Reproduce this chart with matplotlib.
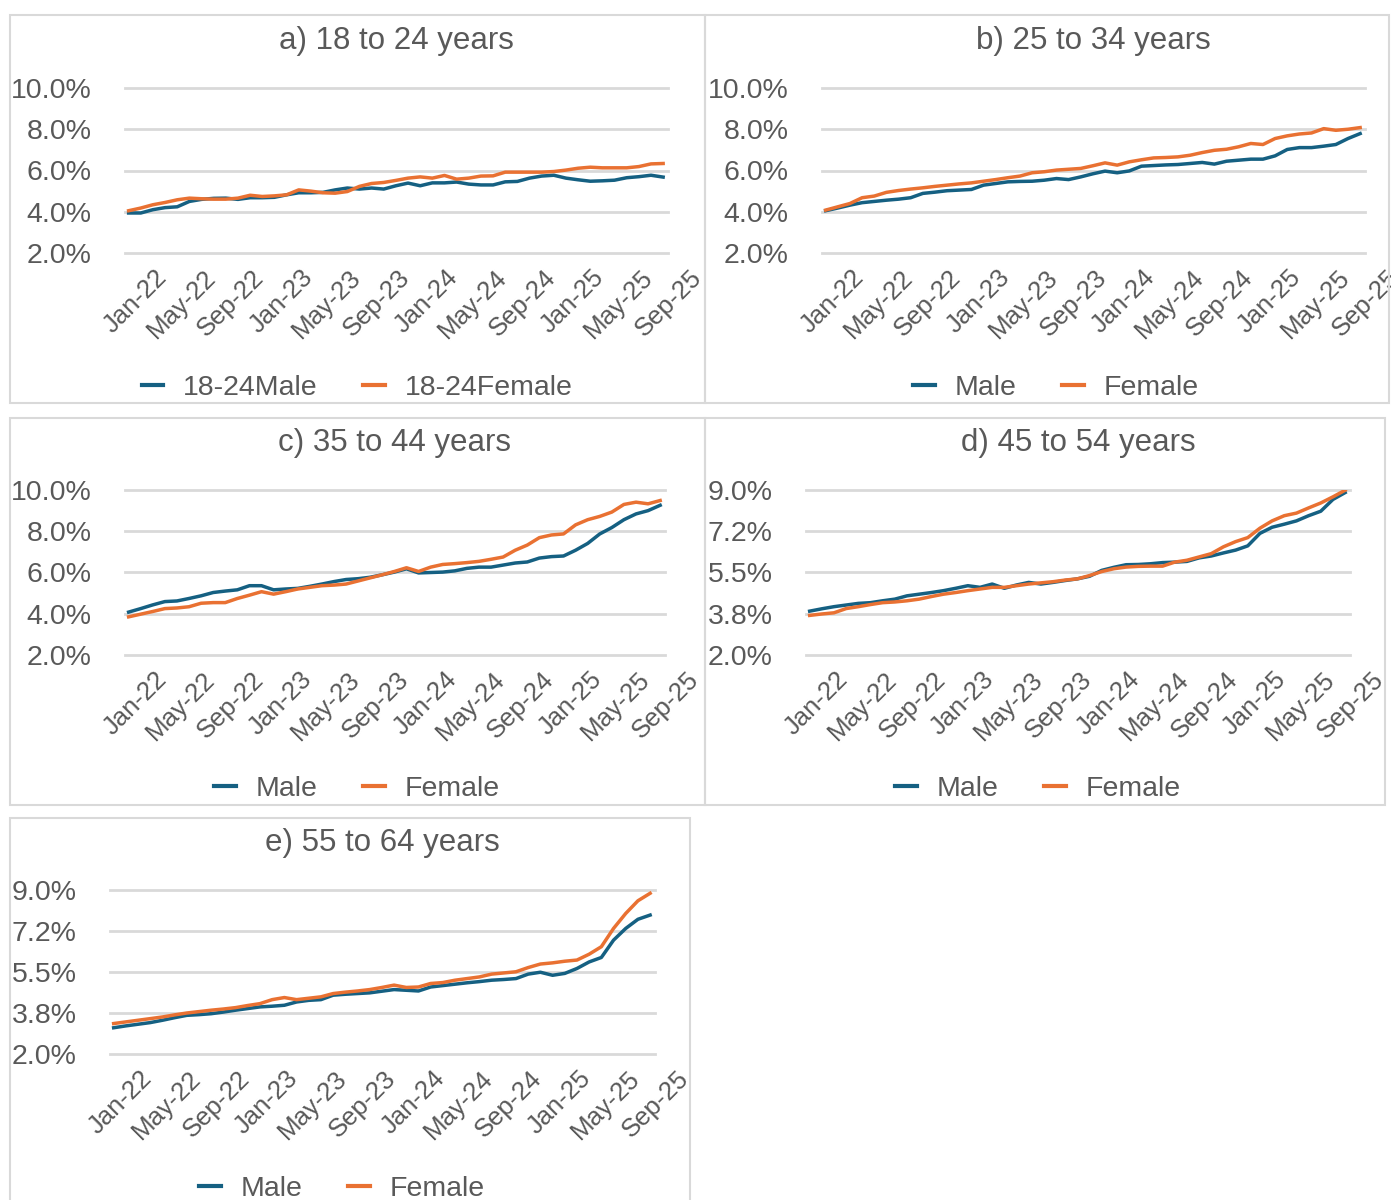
import matplotlib
matplotlib.use("Agg")
import matplotlib.pyplot as plt
import matplotlib.patches as patches
from matplotlib.ticker import FuncFormatter
from matplotlib.transforms import ScaledTranslation

plt.rcParams['font.family'] = ['Liberation Sans', 'DejaVu Sans']

# monthly data, Jan-22 .. Sep-25 (45 months), unemployment rate %
tick_labels = ['Jan-22', 'May-22', 'Sep-22', 'Jan-23', 'May-23', 'Sep-23',
               'Jan-24', 'May-24', 'Sep-24', 'Jan-25', 'May-25', 'Sep-25']

a_male = [3.94, 3.94, 4.10, 4.20, 4.24, 4.50, 4.60, 4.65, 4.66, 4.60, 4.68, 4.68,
          4.70, 4.82, 4.92, 4.92, 4.94, 5.06, 5.15, 5.10, 5.15, 5.10, 5.26, 5.39,
          5.26, 5.40, 5.40, 5.44, 5.34, 5.30, 5.30, 5.45, 5.47, 5.63, 5.73, 5.77,
          5.63, 5.55, 5.48, 5.50, 5.53, 5.65, 5.70, 5.77, 5.68]
a_female = [4.05, 4.18, 4.34, 4.45, 4.58, 4.66, 4.63, 4.61, 4.61, 4.66, 4.80, 4.74,
            4.77, 4.82, 5.06, 5.00, 4.92, 4.90, 4.98, 5.23, 5.37, 5.42, 5.52, 5.63,
            5.69, 5.63, 5.76, 5.58, 5.63, 5.73, 5.74, 5.92, 5.92, 5.92, 5.92, 5.95,
            6.02, 6.11, 6.16, 6.13, 6.13, 6.13, 6.19, 6.32, 6.34]

b_male = [4.05, 4.18, 4.32, 4.44, 4.50, 4.56, 4.61, 4.68, 4.89, 4.95, 5.02, 5.05,
          5.08, 5.29, 5.37, 5.45, 5.47, 5.48, 5.53, 5.61, 5.56, 5.69, 5.84, 5.97,
          5.89, 5.98, 6.21, 6.24, 6.27, 6.29, 6.34, 6.39, 6.31, 6.45, 6.50, 6.55,
          6.55, 6.71, 7.02, 7.11, 7.11, 7.18, 7.26, 7.55, 7.79]
b_female = [4.08, 4.24, 4.40, 4.68, 4.76, 4.94, 5.03, 5.10, 5.16, 5.23, 5.29, 5.35,
            5.40, 5.48, 5.56, 5.65, 5.73, 5.89, 5.94, 6.02, 6.06, 6.10, 6.23, 6.37,
            6.26, 6.42, 6.52, 6.61, 6.63, 6.66, 6.74, 6.87, 6.98, 7.03, 7.15, 7.31,
            7.26, 7.55, 7.68, 7.77, 7.82, 8.03, 7.95, 8.00, 8.08]

c_male = [4.08, 4.25, 4.43, 4.59, 4.62, 4.74, 4.87, 5.03, 5.10, 5.16, 5.36, 5.36,
          5.16, 5.20, 5.23, 5.33, 5.44, 5.56, 5.66, 5.70, 5.77, 5.89, 6.02, 6.18,
          5.98, 6.00, 6.02, 6.08, 6.20, 6.26, 6.26, 6.36, 6.46, 6.51, 6.70, 6.77,
          6.80, 7.08, 7.41, 7.87, 8.18, 8.56, 8.84, 9.00, 9.26]
c_female = [3.85, 3.98, 4.11, 4.25, 4.28, 4.34, 4.51, 4.54, 4.54, 4.74, 4.90, 5.07,
            4.95, 5.07, 5.20, 5.28, 5.36, 5.39, 5.44, 5.59, 5.74, 5.89, 6.05, 6.23,
            6.05, 6.26, 6.39, 6.43, 6.48, 6.54, 6.64, 6.75, 7.08, 7.33, 7.69, 7.82,
            7.87, 8.31, 8.56, 8.72, 8.93, 9.30, 9.41, 9.33, 9.49]

d_male = [3.86, 3.96, 4.05, 4.12, 4.19, 4.22, 4.30, 4.37, 4.51, 4.58, 4.65, 4.73,
          4.83, 4.94, 4.87, 5.01, 4.83, 4.97, 5.08, 5.01, 5.08, 5.16, 5.23, 5.34,
          5.59, 5.72, 5.83, 5.84, 5.87, 5.92, 5.94, 5.97, 6.12, 6.20, 6.33, 6.45,
          6.63, 7.16, 7.42, 7.55, 7.69, 7.91, 8.10, 8.60, 8.89]
d_female = [3.68, 3.74, 3.79, 3.97, 4.05, 4.14, 4.22, 4.25, 4.30, 4.37, 4.48, 4.58,
            4.65, 4.73, 4.80, 4.87, 4.87, 4.94, 5.01, 5.06, 5.11, 5.18, 5.23, 5.37,
            5.54, 5.66, 5.73, 5.76, 5.77, 5.77, 5.94, 6.02, 6.16, 6.30, 6.59, 6.81,
            6.98, 7.38, 7.69, 7.91, 8.02, 8.24, 8.45, 8.71, 8.99]

e_male = [3.12, 3.20, 3.27, 3.34, 3.44, 3.55, 3.65, 3.68, 3.72, 3.79, 3.87, 3.94,
          4.01, 4.04, 4.08, 4.22, 4.29, 4.32, 4.51, 4.55, 4.58, 4.61, 4.68, 4.75,
          4.72, 4.69, 4.86, 4.92, 4.98, 5.04, 5.09, 5.15, 5.18, 5.22, 5.41, 5.49,
          5.36, 5.44, 5.65, 5.93, 6.12, 6.86, 7.36, 7.75, 7.93]
e_female = [3.30, 3.37, 3.44, 3.51, 3.58, 3.67, 3.75, 3.81, 3.87, 3.92, 3.98, 4.07,
            4.15, 4.32, 4.41, 4.32, 4.38, 4.44, 4.58, 4.64, 4.69, 4.75, 4.84, 4.94,
            4.84, 4.86, 5.01, 5.05, 5.15, 5.22, 5.29, 5.41, 5.46, 5.51, 5.69, 5.84,
            5.89, 5.96, 6.01, 6.26, 6.58, 7.36, 8.00, 8.54, 8.86]

W, H = 1391, 1200
BLUE = '#156082'
ORANGE = '#E97132'
GRID = '#d9d9d9'
TXT = '#595959'

fig = plt.figure(figsize=(W / 100, H / 100), dpi=100)

# panel frames (pixel boxes: x0, y0, x1, y1)
for x0, y0, x1, y1 in [(10, 15, 705, 403), (705, 15, 1389, 403),
                       (10, 418, 705, 805), (705, 418, 1385, 805),
                       (10, 818, 690, 1210)]:
    fig.patches.append(patches.Rectangle((x0 / W, 1 - y1 / H), (x1 - x0) / W, (y1 - y0) / H,
                                         transform=fig.transFigure, fill=False,
                                         edgecolor=GRID, linewidth=1.5))

panels = [
    ("a) 18 to 24 years", a_male, a_female, ["18-24Male", "18-24Female"],
     (125, 668, 88, 253), [2, 4, 6, 8, 10], (357, 388)),
    ("b) 25 to 34 years", b_male, b_female, ["Male", "Female"],
     (822, 1365, 88, 253), [2, 4, 6, 8, 10], (1056, 388)),
    ("c) 35 to 44 years", c_male, c_female, ["Male", "Female"],
     (125, 665, 490, 655), [2, 4, 6, 8, 10], (357, 789)),
    ("d) 45 to 54 years", d_male, d_female, ["Male", "Female"],
     (806, 1350, 490, 655), [2, 3.75, 5.5, 7.25, 9], (1038, 789)),
    ("e) 55 to 64 years", e_male, e_female, ["Male", "Female"],
     (110, 655, 890, 1054), [2, 3.75, 5.5, 7.25, 9], (342, 1189)),
]

shift = ScaledTranslation(0.26, 0, fig.dpi_scale_trans)

for title, male, female, names, (x0, x1, yt, yb), yticks, (lx, ly) in panels:
    ax = fig.add_axes([x0 / W, 1 - yb / H, (x1 - x0) / W, (yb - yt) / H])
    months = list(range(len(male)))
    ax.plot(months, male, color=BLUE, lw=2.5, label=names[0], solid_joinstyle='round')
    ax.plot(months, female, color=ORANGE, lw=2.5, label=names[1], solid_joinstyle='round')
    ax.set_xlim(-0.3, 44.4)
    ax.set_ylim(yticks[0], yticks[-1])
    ax.set_yticks(yticks)
    ax.yaxis.set_major_formatter(FuncFormatter(lambda v, p: '{:.1f}%'.format(v)))
    ax.set_xticks(range(0, 45, 4))
    ax.set_xticklabels(tick_labels)
    for s in ax.spines.values():
        s.set_visible(False)
    ax.grid(axis='y', color=GRID, lw=2)
    ax.set_axisbelow(True)
    for gl in ax.get_ygridlines():
        gl.set_clip_on(False)
    ax.tick_params(axis='y', length=0, pad=24, labelsize=20.5, labelcolor=TXT)
    ax.tick_params(axis='x', length=0, pad=9, labelsize=18.5, labelcolor=TXT)
    for lab in ax.get_xticklabels():
        lab.set_rotation(45)
        lab.set_ha('right')
        lab.set_va('top')
        lab.set_rotation_mode('anchor')
        lab.set_transform(lab.get_transform() + shift)
    ax.annotate(title, xy=(0.5, 1), xycoords='axes fraction', xytext=(0, 34),
                textcoords='offset points', ha='center', va='center',
                fontsize=22.5, color=TXT)
    leg = ax.legend(loc='center', bbox_to_anchor=(lx / W, 1 - ly / H),
                    bbox_transform=fig.transFigure, ncol=2, frameon=False,
                    fontsize=20.5, handlelength=0.75, handletextpad=0.7,
                    columnspacing=1.6, borderpad=0)
    for t in leg.get_texts():
        t.set_color(TXT)
    for h in leg.get_lines():
        h.set_linewidth(3)

fig.savefig("out.png", dpi=100)
